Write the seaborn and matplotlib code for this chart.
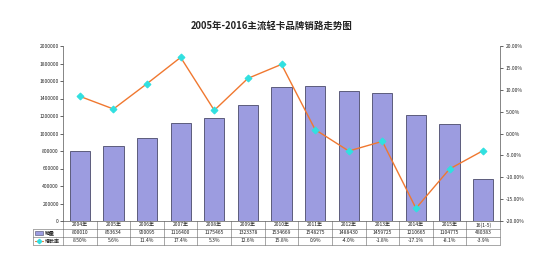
import matplotlib
matplotlib.use("Agg")
import matplotlib.pyplot as plt
import seaborn as sns
import pandas as pd
import numpy as np
from matplotlib.ticker import FuncFormatter
from matplotlib.patches import Rectangle
from matplotlib.lines import Line2D

sns.set_theme(style="white")
plt.rcParams['font.family'] = ['Noto Sans CJK SC', 'DejaVu Sans']

years = ["2004年", "2005年", "2006年", "2007年", "2008年", "2009年", "2010年",
         "2011年", "2012年", "2013年", "2014年", "2015年", "16(1-5)"]
sales = [800010, 853634, 950095, 1116400, 1175465, 1323378, 1534669,
         1548275, 1488430, 1459725, 1210665, 1104775, 480383]
growth = [8.5, 5.6, 11.4, 17.4, 5.3, 12.6, 15.8, 0.9, -4.0, -1.8, -17.1, -8.1, -3.9]
growth_labels = ["8.50%", "5.6%", "11.4%", "17.4%", "5.3%", "12.6%", "15.8%",
                 "0.9%", "-4.0%", "-1.8%", "-17.1%", "-8.1%", "-3.9%"]

df = pd.DataFrame({"year": years, "sales": sales, "growth": growth})
df["x"] = range(len(df))
n = len(df)

W, H = 544, 254
L, R, T, B = 63, 500, 46, 221
fig = plt.figure(figsize=(W / 100, H / 100), dpi=100)
ax = fig.add_axes([L / W, 1 - B / H, (R - L) / W, (B - T) / H])

sns.barplot(data=df, x="x", y="sales", ax=ax, color="#9c9ce0",
            edgecolor="#4a4a6a", linewidth=0.6, width=0.6, saturation=1)
ax.set_ylim(0, 2000000)
ax.set_yticks(np.arange(0, 2000001, 200000))
ax.yaxis.set_major_formatter(FuncFormatter(lambda v, p: f"{int(v)}"))
ax.tick_params(axis='y', labelsize=3.6, length=2, width=0.5, pad=1)
ax.set_xticks([])
ax.set_xlabel("")
ax.set_ylabel("")
for s in ["top", "right"]:
    ax.spines[s].set_visible(False)
for s in ["left", "bottom"]:
    ax.spines[s].set_linewidth(0.5)
    ax.spines[s].set_color("#555555")
ax.set_xlim(-0.5, n - 0.5)

ax2 = ax.twinx()
sns.lineplot(data=df, x="x", y="growth", ax=ax2, color="#f07830", linewidth=1.0,
             marker="D", markersize=3.5, markerfacecolor="#30e0e0",
             markeredgecolor="#30e0e0")
ax2.set_ylim(-20, 20)
ax2.set_yticks(np.arange(-20, 21, 5))
ax2.yaxis.set_major_formatter(FuncFormatter(lambda v, p: f"{v:.2f}%"))
ax2.tick_params(axis='y', labelsize=3.6, length=2, width=0.5, pad=2)
ax2.set_ylabel("")
ax2.set_xlabel("")
for s in ["top", "left", "bottom"]:
    ax2.spines[s].set_visible(False)
ax2.spines["right"].set_linewidth(0.5)
ax2.spines["right"].set_color("#555555")
ax2.set_xlim(-0.5, n - 0.5)

fig.text(0.5, 1 - 26 / H, "2005年-2016主流轻卡品牌销路走势图", ha="center", va="center",
         fontsize=6.8, fontweight="bold", color="#222222")

# ---- data table drawn manually in axes coordinates ----
lab_w = 30 / (R - L)
rh = 8 / (B - T)
tr = ax.transAxes
lc, lw = "#666666", 0.4
def hline(y, x0, x1):
    ax.add_line(Line2D([x0, x1], [y, y], transform=tr, clip_on=False, color=lc, linewidth=lw))
def vline(x, y0, y1):
    ax.add_line(Line2D([x, x], [y0, y1], transform=tr, clip_on=False, color=lc, linewidth=lw))

hline(-rh, -lab_w, 1)
hline(-2 * rh, -lab_w, 1)
hline(-3 * rh, -lab_w, 1)
vline(-lab_w, -rh, -3 * rh)
for k in range(n + 1):
    vline(k / n, 0, -3 * rh)

rows = [years, [str(v) for v in sales], growth_labels]
for r, vals in enumerate(rows):
    yc = -(r + 0.5) * rh
    for k, v in enumerate(vals):
        ax.text((k + 0.5) / n, yc, v, transform=tr, ha="center", va="center",
                fontsize=3.6, color="#222222")

# row labels with legend keys
y1 = -1.5 * rh
ax.add_patch(Rectangle((-lab_w + 0.004, y1 - rh * 0.22), 0.018, rh * 0.44,
                       transform=tr, clip_on=False,
                       facecolor="#9c9ce0", edgecolor="#4a4a6a", linewidth=0.4))
ax.text(-lab_w + 0.027, y1, "销量", transform=tr, ha="left", va="center",
        fontsize=3.6, fontweight="bold", color="#222222")
y2 = -2.5 * rh
ax.add_line(Line2D([-lab_w + 0.004, -lab_w + 0.022], [y2, y2], transform=tr,
                   clip_on=False, color="#f07830", linewidth=0.8))
ax.add_line(Line2D([-lab_w + 0.013], [y2], transform=tr, clip_on=False,
                   marker="D", markersize=2.2, color="#30e0e0", linestyle=""))
ax.text(-lab_w + 0.027, y2, "增长率", transform=tr, ha="left", va="center",
        fontsize=3.6, fontweight="bold", color="#222222")

fig.savefig("out.png", dpi=100)
